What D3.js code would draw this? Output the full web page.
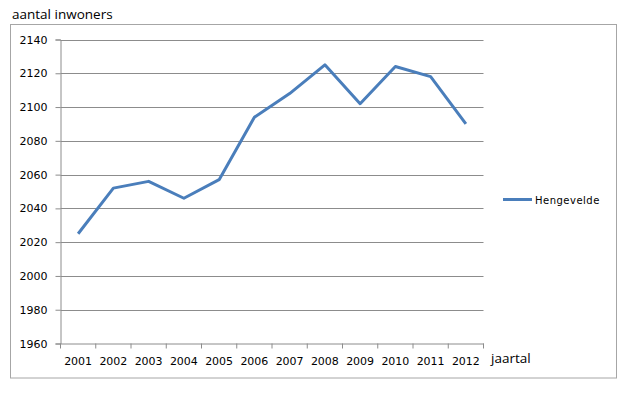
<!DOCTYPE html>
<html>
<head>
<meta charset="utf-8">
<script src="https://cdn.jsdelivr.net/npm/d3@7"></script>
<style>
  html, body { margin: 0; padding: 0; background: #fff; }
  svg { display: block; }
</style>
</head>
<body>
<svg id="chart" width="640" height="396"></svg>
<script>
const years = ["2001","2002","2003","2004","2005","2006","2007","2008","2009","2010","2011","2012"];
const inwoners = [2025, 2052, 2056, 2046, 2057, 2094, 2108, 2125, 2102, 2124, 2118, 2090];
const yTicks = [1960, 1980, 2000, 2020, 2040, 2060, 2080, 2100, 2120, 2140];
const seriesName = "Hengevelde";
const yTitle = "aantal inwoners";
const xTitle = "jaartal";

const svg = d3.select("#chart");
const tickFont = "Verdana, 'DejaVu Sans', sans-serif";
const titleFont = "'Open Sans', 'Noto Sans', sans-serif";

const pLeft = 60.5, pRight = 483.5, pTop = 39.5, pBottom = 343.5;
const x = d3.scaleBand().domain(years).range([pLeft, pRight]);
const y = d3.scaleLinear().domain([1960, 2140]).range([pBottom, pTop]);

// outer frame
svg.append("rect").attr("x", 10.5).attr("y", 24.5).attr("width", 606).attr("height", 353.5)
  .attr("fill", "none").attr("stroke", "#a6a6a6").attr("stroke-width", 1);

// gridlines
svg.append("g").selectAll("line").data(yTicks.filter(d => d !== 1960)).join("line")
  .attr("x1", pLeft).attr("x2", pRight)
  .attr("y1", d => Math.round(y(d)) + 0.5).attr("y2", d => Math.round(y(d)) + 0.5)
  .attr("stroke", "#8c8c8c").attr("stroke-width", 1);

// y axis
const yAxis = svg.append("g").attr("transform", `translate(${pLeft},0)`)
  .call(d3.axisLeft(y).tickValues(yTicks).tickSize(5).tickPadding(8).tickFormat(d3.format("d")));
yAxis.select(".domain").attr("stroke", "#8c8c8c");
yAxis.selectAll(".tick line").attr("stroke", "#8c8c8c");
yAxis.selectAll(".tick text").attr("font-family", tickFont).attr("font-size", 11).attr("fill", "#000");

// x axis
const xAxis = svg.append("g").attr("transform", `translate(0,${pBottom})`)
  .call(d3.axisBottom(x).tickSize(0).tickPadding(14));
xAxis.select(".domain").attr("stroke", "#8c8c8c");
xAxis.selectAll(".tick text").attr("font-family", tickFont).attr("font-size", 11).attr("fill", "#000");
// boundary tick marks
const bounds = years.map(d => x(d)).concat([pRight]);
svg.append("g").selectAll("line").data(bounds).join("line")
  .attr("x1", d => d).attr("x2", d => d)
  .attr("y1", pBottom).attr("y2", pBottom + 5)
  .attr("stroke", "#8c8c8c");

// line
const line = d3.line()
  .x((d, i) => x(years[i]) + x.bandwidth() / 2)
  .y(d => y(d));
svg.append("path").datum(inwoners)
  .attr("d", line).attr("fill", "none")
  .attr("stroke", "#4a7ebb").attr("stroke-width", 3).attr("stroke-linejoin", "round");

// titles
svg.append("text").attr("x", 12).attr("y", 19).text(yTitle)
  .attr("font-family", titleFont).attr("font-size", 13.5).attr("fill", "#000");
svg.append("text").attr("x", 491).attr("y", 363).text(xTitle)
  .attr("font-family", titleFont).attr("font-size", 13.5).attr("fill", "#000");

// legend
svg.append("line").attr("x1", 503).attr("x2", 532).attr("y1", 199.5).attr("y2", 199.5)
  .attr("stroke", "#4a7ebb").attr("stroke-width", 3);
svg.append("text").attr("x", 535).attr("y", 203.5).text(seriesName)
  .attr("font-family", tickFont).attr("font-size", 10).attr("letter-spacing", 0.5).attr("fill", "#000");
</script>
</body>
</html>
